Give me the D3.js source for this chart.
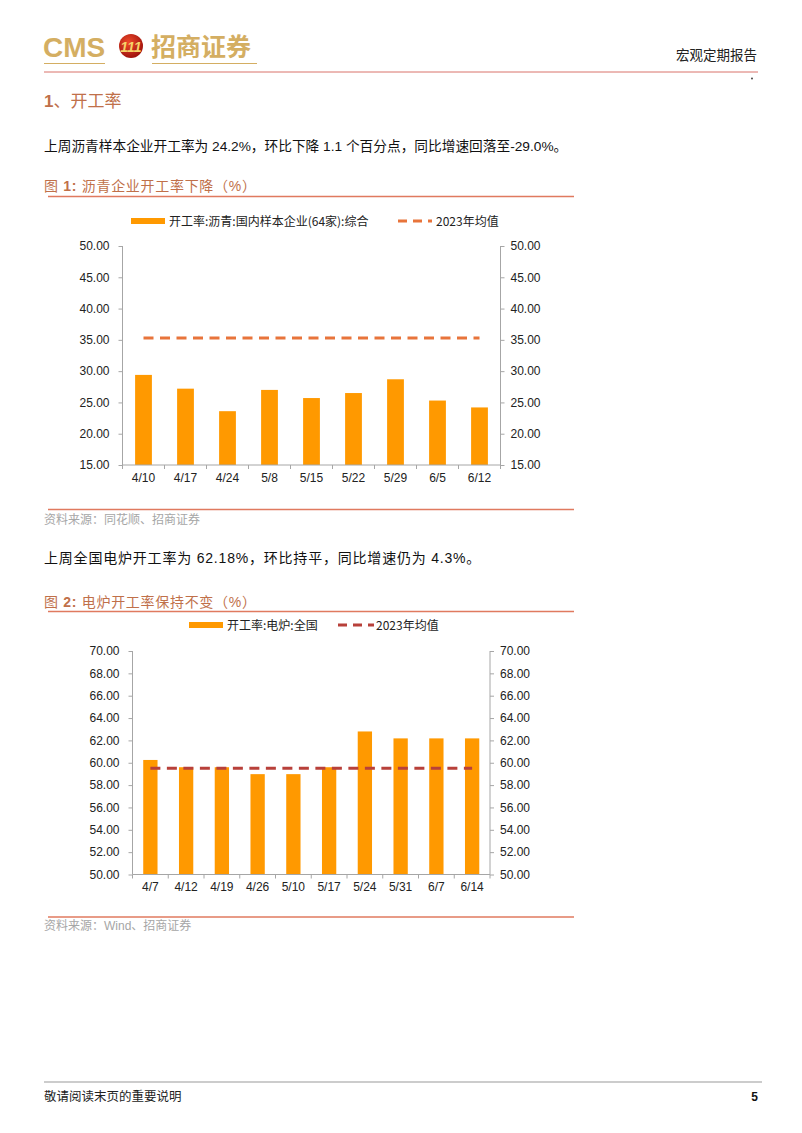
<!DOCTYPE html>
<html><head><meta charset="utf-8">
<script src="https://cdn.jsdelivr.net/npm/d3@7/dist/d3.min.js"></script>
<style>
body{margin:0;background:#fff;}
text{font-family:"Liberation Sans",Arial,"Noto Sans CJK SC",sans-serif;}
.cjk{font-family:"Noto Sans CJK SC","Liberation Sans",sans-serif;}
</style></head><body>
<svg id="page" width="802" height="1133"></svg>
<script>
// ---- data ----
const cats1 = ["4/10","4/17","4/24","5/8","5/15","5/22","5/29","6/5","6/12"];
const vals1 = [29.4,27.2,23.6,27.0,25.7,26.5,28.7,25.3,24.2];
const avg1 = 35.3;
const ticks1 = [15,20,25,30,35,40,45,50];
const series1 = ["开工率:沥青:国内样本企业(64家):综合","2023年均值"];

const cats2 = ["4/7","4/12","4/19","4/26","5/10","5/17","5/24","5/31","6/7","6/14"];
const vals2 = [60.25,59.6,59.6,58.98,58.98,59.6,62.8,62.18,62.18,62.18];
const avg2 = 59.5;
const ticks2 = [50,52,54,56,58,60,62,64,66,68,70];
const series2 = ["开工率:电炉:全国","2023年均值"];

const svg = d3.select("#page");
const BAR = "#FF9900";
const TITLE = "#C0704A";
const RULE = "#E07A5F";

// ---- header ----
svg.append("text").attr("x",43).attr("y",57).attr("font-size",28).attr("font-weight","bold")
  .attr("fill","#D4AE62").text("CMS");
const lg = svg.append("defs").append("radialGradient").attr("id","lg").attr("cx","40%").attr("cy","35%").attr("r","65%");
lg.append("stop").attr("offset","0%").attr("stop-color","#F04A2A");
lg.append("stop").attr("offset","100%").attr("stop-color","#A0140E");
svg.append("circle").attr("cx",131).attr("cy",46).attr("r",12).attr("fill","url(#lg)");
svg.append("text").attr("x",131).attr("y",52).attr("text-anchor","middle").attr("font-size",14)
  .attr("font-weight","bold").attr("font-style","italic").attr("fill","#F6D36A").text("111");
svg.append("text").attr("class","cjk").attr("x",151).attr("y",56).attr("font-size",25).attr("font-weight","bold")
  .attr("fill","#D4AE62").text("招商证券");
svg.append("line").attr("x1",44).attr("x2",105).attr("y1",63.5).attr("y2",63.5).attr("stroke","#D4AE62").attr("stroke-width",1.2);
svg.append("line").attr("x1",152).attr("x2",257).attr("y1",63.5).attr("y2",63.5).attr("stroke","#D4AE62").attr("stroke-width",1.2);
svg.append("text").attr("class","cjk").attr("x",757).attr("y",60).attr("text-anchor","end").attr("font-size",13.5)
  .attr("fill","#222").text("宏观定期报告");
svg.append("line").attr("x1",44).attr("x2",758).attr("y1",72).attr("y2",72).attr("stroke","#D9736A").attr("stroke-width",1);
svg.append("circle").attr("cx",752).attr("cy",78.5).attr("r",0.9).attr("fill","#333");

// ---- section text ----
const h = svg.append("text").attr("x",44).attr("y",107).attr("font-size",17).attr("fill",TITLE);
h.append("tspan").attr("font-weight","bold").text("1");
h.append("tspan").text("、开工率");
svg.append("text").attr("x",44).attr("y",151).attr("font-size",13.7).attr("fill","#111")
  .text("上周沥青样本企业开工率为 24.2%，环比下降 1.1 个百分点，同比增速回落至-29.0%。");
const t1 = svg.append("text").attr("x",44).attr("y",191).attr("font-size",14).attr("letter-spacing",0.7).attr("fill",TITLE);
t1.append("tspan").text("图 ");
t1.append("tspan").attr("font-weight","bold").text("1:");
t1.append("tspan").text(" 沥青企业开工率下降（%）");
svg.append("line").attr("x1",48).attr("x2",574).attr("y1",196.5).attr("y2",196.5).attr("stroke",RULE).attr("stroke-width",1.3);

svg.append("line").attr("x1",48).attr("x2",574).attr("y1",509.5).attr("y2",509.5).attr("stroke",RULE).attr("stroke-width",1.3);
svg.append("text").attr("x",44).attr("y",524).attr("font-size",12).attr("fill","#A6A6A6")
  .text("资料来源：同花顺、招商证券");
svg.append("text").attr("x",44).attr("y",563).attr("font-size",14).attr("letter-spacing",0.8).attr("fill","#111")
  .text("上周全国电炉开工率为 62.18%，环比持平，同比增速仍为 4.3%。");
const t2 = svg.append("text").attr("x",44).attr("y",607).attr("font-size",14).attr("letter-spacing",0.7).attr("fill",TITLE);
t2.append("tspan").text("图 ");
t2.append("tspan").attr("font-weight","bold").text("2:");
t2.append("tspan").text(" 电炉开工率保持不变（%）");
svg.append("line").attr("x1",48).attr("x2",574).attr("y1",611.5).attr("y2",611.5).attr("stroke",RULE).attr("stroke-width",1.3);

svg.append("line").attr("x1",48).attr("x2",574).attr("y1",917).attr("y2",917).attr("stroke",RULE).attr("stroke-width",1.3);
svg.append("text").attr("x",44).attr("y",930).attr("font-size",12).attr("fill","#A6A6A6")
  .text("资料来源：Wind、招商证券");

// ---- footer ----
svg.append("line").attr("x1",44).attr("x2",762).attr("y1",1082).attr("y2",1082).attr("stroke","#999").attr("stroke-width",1);
svg.append("text").attr("class","cjk").attr("x",44).attr("y",1101).attr("font-size",12.5).attr("fill","#222").text("敬请阅读末页的重要说明");
svg.append("text").attr("x",758).attr("y",1101).attr("text-anchor","end").attr("font-size",12).attr("font-weight","bold").attr("fill","#111").text("5");

// ---- chart builder ----
function chart(cfg){
  const g = svg.append("g");
  const x = d3.scaleBand().domain(cfg.cats).range([cfg.x0,cfg.x1]).paddingInner(0.6).paddingOuter(0.3);
  const y = d3.scaleLinear().domain(cfg.dom).range([cfg.yb,cfg.yt]);
  const axisCol = "#A6A6A6";
  const la = g.append("g").attr("transform",`translate(${cfg.x0},0)`)
    .call(d3.axisLeft(y).tickValues(cfg.ticks).tickFormat(d3.format(".2f")).tickSize(4).tickPadding(9));
  const ra = g.append("g").attr("transform",`translate(${cfg.x1},0)`)
    .call(d3.axisRight(y).tickValues(cfg.ticks).tickFormat(d3.format(".2f")).tickSize(4).tickPadding(6));
  [la,ra].forEach(a=>{
    a.select(".domain").remove();
    a.selectAll(".tick line").attr("stroke",axisCol);
    a.selectAll(".tick text").attr("font-size",12).attr("fill","#222").style("font-family","'Liberation Sans',Arial,sans-serif");
    a.append("line").attr("y1",cfg.yb).attr("y2",cfg.yt).attr("stroke",axisCol);
  });
  // bars
  g.append("g").selectAll("rect").data(cfg.vals).join("rect")
    .attr("x",(d,i)=>x(cfg.cats[i])).attr("width",x.bandwidth())
    .attr("y",d=>y(d)).attr("height",d=>y(cfg.dom[0])-y(d)).attr("fill",BAR);
  // bottom axis
  const ba = g.append("g").attr("transform",`translate(0,${cfg.yb})`);
  ba.append("line").attr("x1",cfg.x0).attr("x2",cfg.x1).attr("stroke",axisCol);
  const step = x.step();
  const bounds = d3.range(cfg.cats.length+1).map(i=>cfg.x0+i*step);
  ba.selectAll("line.tk").data(bounds).join("line").attr("class","tk")
    .attr("x1",d=>d).attr("x2",d=>d).attr("y1",0).attr("y2",4).attr("stroke",axisCol);
  ba.selectAll("text").data(cfg.cats).join("text")
    .attr("x",d=>x(d)+x.bandwidth()/2).attr("y",cfg.labDy).attr("text-anchor","middle")
    .attr("font-size",12).attr("fill","#222").text(d=>d);
  // average line
  const c0 = x(cfg.cats[0])+x.bandwidth()/2, c1 = x(cfg.cats[cfg.cats.length-1])+x.bandwidth()/2;
  g.append("path").datum([[c0,cfg.avg],[c1,cfg.avg]])
    .attr("d",d3.line().x(d=>d[0]).y(d=>y(d[1])))
    .attr("stroke",cfg.avgCol).attr("stroke-width",3).attr("stroke-dasharray","10,6.5").attr("fill","none");
  // legend
  const L = cfg.leg;
  g.append("rect").attr("x",L.sx).attr("y",L.y-3).attr("width",L.sw).attr("height",6).attr("fill",BAR);
  g.append("text").attr("class","cjk").attr("x",L.tx).attr("y",L.y+4.5).attr("font-size",12).attr("fill","#222").text(cfg.series[0]);
  g.append("line").attr("x1",L.dx).attr("x2",L.dx+L.dw).attr("y1",L.y).attr("y2",L.y)
    .attr("stroke",cfg.avgCol).attr("stroke-width",3).attr("stroke-dasharray","9,6");
  g.append("text").attr("class","cjk").attr("x",L.t2x).attr("y",L.y+4.5).attr("font-size",12).attr("fill","#222").text(cfg.series[1]);
}

chart({cats:cats1, vals:vals1, avg:avg1, ticks:ticks1, dom:[15,50], series:series1,
  x0:122.5, x1:500.5, yb:465, yt:246, labDy:17, avgCol:"#E8743B",
  leg:{y:221, sx:131, sw:34, tx:169, dx:398, dw:34, t2x:436}});

chart({cats:cats2, vals:vals2, avg:avg2, ticks:ticks2, dom:[50,70], series:series2,
  x0:132.5, x1:490, yb:874.5, yt:651, labDy:16, avgCol:"#B8403A",
  leg:{y:625, sx:189, sw:34, tx:227, dx:338, dw:36, t2x:376}});
</script>
</body></html>
